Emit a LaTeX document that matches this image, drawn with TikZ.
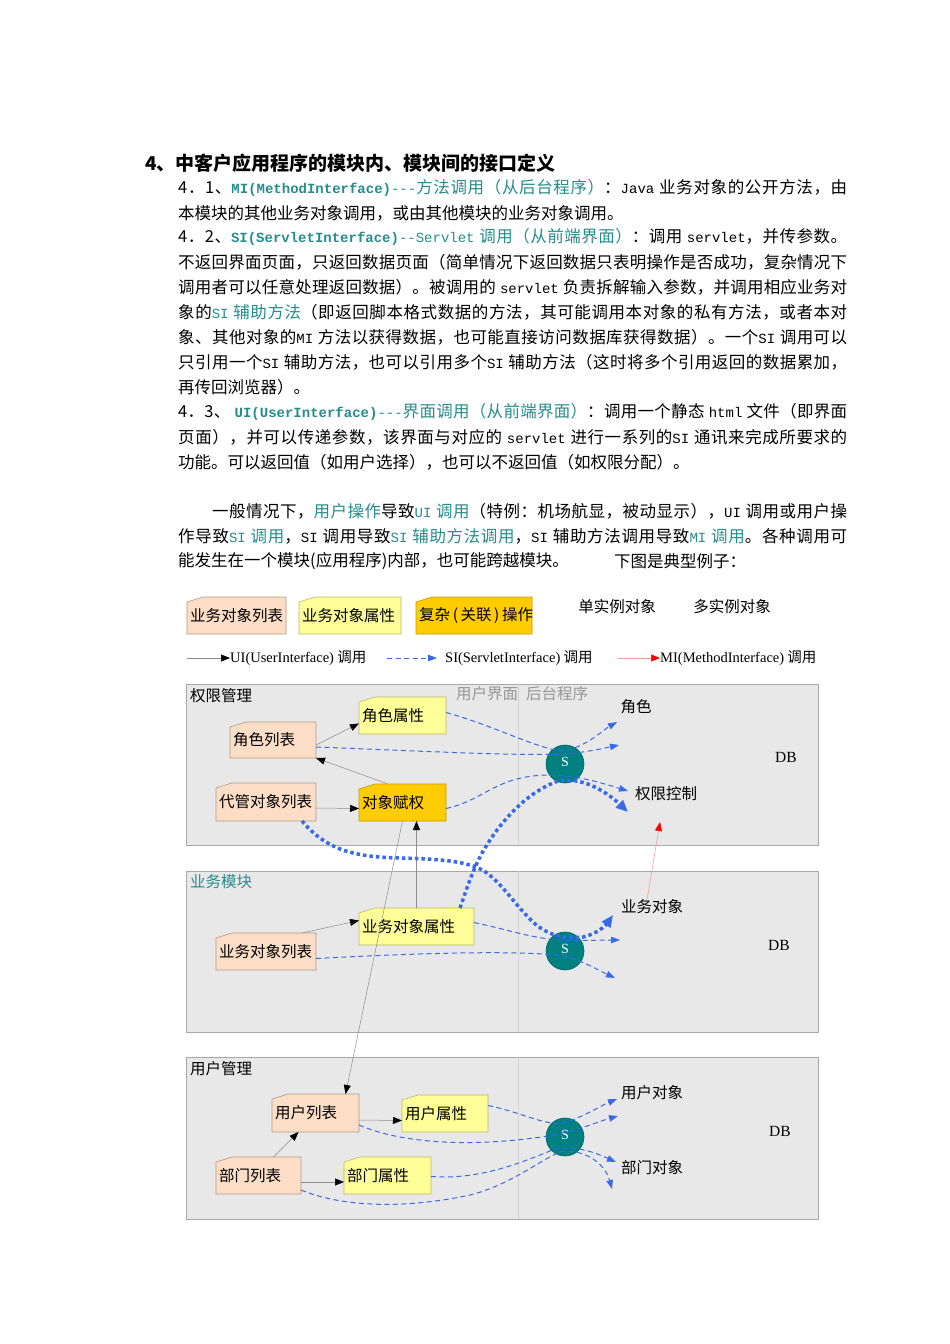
\documentclass[tikz,border=0pt]{standalone}
\usepackage{fontspec}
\setmainfont{Noto Sans CJK SC}
\newfontfamily\serif{Liberation Serif}
\newfontfamily\mono{Liberation Mono}
\usetikzlibrary{arrows.meta}

% stretchable glue between CJK characters, for justified lines
\newcount\cjkc
\cjkc="4E00
\loop\XeTeXcharclass\cjkc=7 \advance\cjkc by 1 \ifnum\cjkc<"A000 \repeat
\cjkc="3000
\loop\XeTeXcharclass\cjkc=7 \advance\cjkc by 1 \ifnum\cjkc<"3040 \repeat
\cjkc="FF00
\loop\XeTeXcharclass\cjkc=7 \advance\cjkc by 1 \ifnum\cjkc<"FFF0 \repeat
\XeTeXinterchartokenstate=1
\XeTeXinterchartoks 7 7 = {\hskip 0pt plus 1pt\relax}
\XeTeXinterchartoks 0 7 = {\hskip 0pt plus 1pt\relax}
\XeTeXinterchartoks 7 0 = {\hskip 0pt plus 1pt\relax}

\definecolor{peach}{RGB}{252,222,198}
\definecolor{peachline}{RGB}{175,155,135}
\definecolor{yellowbox}{RGB}{255,255,153}
\definecolor{yellowline}{RGB}{185,185,110}
\definecolor{orangebox}{RGB}{255,204,0}
\definecolor{orangeline}{RGB}{195,155,0}
\definecolor{panelfill}{RGB}{232,232,232}
\definecolor{panelline}{RGB}{168,168,168}
\definecolor{sepline}{RGB}{212,212,212}
\definecolor{tealS}{RGB}{0,128,128}
\definecolor{tealD}{RGB}{0,100,100}
\definecolor{tealtxt}{RGB}{38,140,140}
\definecolor{siblue}{RGB}{55,105,235}
\definecolor{uigray}{RGB}{140,140,140}
\definecolor{mipink}{RGB}{240,150,150}
\definecolor{graytxt}{RGB}{150,150,150}

\newcommand\bodyfont{\fontsize{16.5}{19}\selectfont}
\newcommand\dgfont{\fontsize{15.5}{18}\selectfont}
\newcommand\lat[1]{{\mono\fontsize{14}{16}\selectfont#1}}
\newcommand\latb[1]{{\mono\bfseries\fontsize{14}{16}\selectfont#1}}
\newcommand\hl[1]{\textcolor{tealtxt}{#1}}
\newcommand\jl[2][669pt]{\hbox to #1{#2}}

% card with a cut top-left corner: style, name, top-left, bottom-right, text
\def\card[#1](#2)(#3,#4)(#5,#6)#7{%
  \draw[#1] (#3,#4+5) -- (#3+16,#4) -- (#5,#4) -- (#5,#6) -- (#3,#6) -- cycle;
  \node[cardbox, minimum width={#5-#3}, minimum height={#6-#4}] (#2) at ({(#3+#5)/2},{(#4+#6)/2}) {};
  \begin{scope}
    \clip (#3,#4) rectangle (#5,#6);
    \node[cardtxt] (#2-t) at ([xshift=3pt]#2.west) {#7};
  \end{scope}}

\begin{document}
\begin{tikzpicture}[x=1pt,y=-1pt,
  panel/.style={draw=panelline, fill=panelfill, line width=0.6pt},
  vsep/.style={draw=sepline, line width=0.6pt},
  lst/.style={draw=peachline, fill=peach, line width=0.6pt},
  attr/.style={draw=yellowline, fill=yellowbox, line width=0.6pt},
  oper/.style={draw=orangeline, fill=orangebox, line width=0.6pt},
  cardbox/.style={inner sep=0pt, outer sep=0pt},
  cardtxt/.style={anchor=west, inner sep=0pt, font=\dgfont},
  lbl/.style={inner sep=0pt, font=\dgfont},
  sv/.style={circle, fill=tealS, draw=tealD, line width=0.6pt, minimum size=38pt, inner sep=0pt, text=white, font=\serif\fontsize{14}{14}\selectfont},
  ui/.style={draw=uigray, line width=0.5pt, -{Triangle[length=9pt,width=7pt,color=black]}},
  si/.style={draw=siblue, line width=1pt, dash pattern=on 5pt off 3.5pt, -{Triangle[length=9pt,width=6.5pt]}},
  sidots/.style={draw=siblue, line width=3.5pt, dash pattern=on 3.5pt off 3pt, -{Triangle[length=12pt,width=10pt]}},
  mi/.style={draw=mipink, line width=0.5pt, -{Triangle[length=9pt,width=7pt,color=red]}},
  ln/.style={anchor=west, inner sep=0pt, font=\bodyfont},
]
\useasboundingbox (0,0) rectangle (950,1344);
\fill[white] (0,0) rectangle (950,1344);

% text of the page
\node[anchor=west, inner sep=0pt, font=\bfseries\fontsize{19}{22}\selectfont] (head) at (145,163) {4、中客户应用程序的模块内、模块间的接口定义};
\node[ln] (l1) at (178,188) {\jl{4．1、\hl{\latb{MI(MethodInterface)}\lat{---}方法调用（从后台程序）}：\lat{Java} 业务对象的公开方法，由}};
\node[ln] (l2) at (178,213) {本模块的其他业务对象调用，或由其他模块的业务对象调用。};
\node[ln] (l3) at (178,237) {\jl{4．2、\hl{\latb{SI(ServletInterface)}\lat{--Servlet} 调用（从前端界面）}：调用 \lat{servlet}，并传参数。}};
\node[ln] (l4) at (178,262) {\jl{不返回界面页面，只返回数据页面（简单情况下返回数据只表明操作是否成功，复杂情况下}};
\node[ln] (l5) at (178,287) {\jl{调用者可以任意处理返回数据）。被调用的 \lat{servlet} 负责拆解输入参数，并调用相应业务对}};
\node[ln] (l6) at (178,312) {\jl{象的\hl{\lat{SI} 辅助方法}（即返回脚本格式数据的方法，其可能调用本对象的私有方法，或者本对}};
\node[ln] (l7) at (178,337) {\jl{象、其他对象的\lat{MI} 方法以获得数据，也可能直接访问数据库获得数据）。一个\lat{SI} 调用可以}};
\node[ln] (l8) at (178,362) {\jl{只引用一个\lat{SI} 辅助方法，也可以引用多个\lat{SI} 辅助方法（这时将多个引用返回的数据累加，}};
\node[ln] (l9) at (178,387) {再传回浏览器）。};
\node[ln] (l10) at (178,412) {\jl{4．3、 \hl{\latb{UI(UserInterface)}\lat{---}界面调用（从前端界面）}：调用一个静态 \lat{html} 文件（即界面}};
\node[ln] (l11) at (178,437) {\jl{页面），并可以传递参数，该界面与对应的 \lat{servlet} 进行一系列的\lat{SI} 通讯来完成所要求的}};
\node[ln] (l12) at (178,462) {功能。可以返回值（如用户选择），也可以不返回值（如权限分配）。};
\node[ln] (l13) at (212,511) {\jl[635pt]{一般情况下，\hl{用户操作}导致\hl{\lat{UI} 调用}（特例：机场航显，被动显示），\lat{UI} 调用或用户操}};
\node[ln] (l14) at (178,536) {\jl{作导致\hl{\lat{SI} 调用}，\lat{SI} 调用导致\hl{\lat{SI} 辅助方法调用}，\lat{SI} 辅助方法调用导致\hl{\lat{MI} 调用}。各种调用可}};
\node[ln] (l15) at (178,561) {能发生在一个模块(应用程序)内部，也可能跨越模块。};
\node[ln] (l15b) at (614,561) {下图是典型例子：};

% legend
\card[lst](lgl)(187,597)(286,634){业务对象列表}
\card[attr](lga)(299,597)(401,634){业务对象属性}
\card[oper](lgo)(416,597)(532,634){复杂\,(\,关联\,)\,操作}
\node[lbl] (single) at (617,607) {单实例对象};
\node[lbl] (multi) at (732,607) {多实例对象};

\coordinate (lgu) at (187,658);
\coordinate (lgs) at (387,658);
\coordinate (lgm) at (618,658);
\node[anchor=west, inner sep=0pt, font=\fontsize{14.5}{17}\selectfont] (uitxt) at (230,658) {{\serif UI(UserInterface)} 调用};
\node[anchor=west, inner sep=0pt, font=\fontsize{14.5}{17}\selectfont] (sitxt) at (445,658) {{\serif SI(ServletInterface)} 调用};
\node[anchor=west, inner sep=0pt, font=\fontsize{14.5}{17}\selectfont] (mitxt) at (660,658) {{\serif MI(MethodInterface)} 调用};
\draw[ui] (lgu) -- (uitxt.west);
\draw[si] (lgs) -- ([xshift=-8pt]sitxt.west);
\draw[mi] (lgm) -- (mitxt.west);

% panels
\draw[panel] (186,684) rectangle (818,845);
\draw[panel] (186,871) rectangle (818,1032);
\draw[panel] (186,1057) rectangle (818,1219);
\draw[vsep] (518,684) -- (518,845);
\draw[vsep] (518,871) -- (518,1032);
\draw[vsep] (518,1057) -- (518,1219);

\node[anchor=west, lbl] (qxgl) at (190,696) {权限管理};
\node[anchor=west, lbl, text=tealtxt] (ywmk) at (190,882) {业务模块};
\node[anchor=west, lbl] (yhgl) at (190,1069) {用户管理};
\node[anchor=west, lbl, text=graytxt] (side) at (456,694) {用户界面\hspace{8pt}后台程序};

% boxes
\card[lst](rl)(230,722)(316,758){角色列表}
\card[attr](rp)(359,697)(446,734){角色属性}
\card[lst](dl)(216,783)(316,821){代管对象列表}
\card[oper](og)(359,784)(446,821){对象赋权}
\card[attr](bp)(359,908)(474,945){业务对象属性}
\card[lst](bl)(216,933)(316,970){业务对象列表}
\card[lst](ul)(272,1094)(359,1132){用户列表}
\card[attr](up)(402,1095)(488,1132){用户属性}
\card[lst](pl)(216,1157)(301,1194){部门列表}
\card[attr](pp)(344,1157)(431,1194){部门属性}

% servlets
\node[sv] (s1) at (565,764) {\raisebox{5pt}{S}};
\node[sv] (s2) at (565,951) {\raisebox{5pt}{S}};
\node[sv] (s3) at (565,1137) {\raisebox{5pt}{S}};

% targets
\node[lbl] (js) at (636,707) {角色};
\node[lbl] (qxkz) at (666,794) {权限控制};
\node[lbl] (ywdx) at (652,907) {业务对象};
\node[lbl] (yhdx) at (652,1093) {用户对象};
\node[lbl] (bmdx) at (652,1168) {部门对象};
\node[lbl, font=\serif\fontsize{15.5}{18}\selectfont] (db1) at (786,757) {DB};
\node[lbl, font=\serif\fontsize{15.5}{18}\selectfont] (db2) at (779,945) {DB};
\node[lbl, font=\serif\fontsize{15.5}{18}\selectfont] (db3) at (780,1131) {DB};

\coordinate (tjs) at (617,722);
\coordinate (tjs2) at (619,745);
\coordinate (tqx) at (628,791);
\coordinate (tqx2) at (628,812);
\coordinate (tyw) at (613,915);
\coordinate (tyw2) at (620,940);
\coordinate (tyw3) at (615,978);
\coordinate (tyh) at (617,1099);
\coordinate (tyh2) at (618,1116);
\coordinate (tbm) at (616,1162);
\coordinate (tbm2) at (612,1189);
\coordinate (miend) at (660,822);

% UI calls
\draw[ui] ([yshift=-5pt]rl.east) -- ([yshift=-8pt]rp.west);
\draw[ui] ([xshift=29pt]og.north west) -- (rl.south east);
\draw[ui] ([yshift=-6pt]dl.east) -- ([yshift=-6pt]og.west);
\draw[ui] (bp.north) -- (bp.north |- og.south);
\draw[ui] (og.south) -- ([xshift=30pt]ul.north);
\draw[ui] ([xshift=-14pt]bl.north east) -- ([yshift=6pt]bp.west);
\draw[ui] ([yshift=-7pt]ul.east) -- ([yshift=-7pt]up.west);
\draw[ui] ([xshift=15pt]pl.north) -- ([xshift=-17pt]ul.south);
\draw[ui] ([yshift=-6.5pt]pl.east) -- ([yshift=-6.5pt]pp.west);

% SI calls
\draw[si] ([yshift=3pt]rp.east) .. controls (495,726) and (535,748) .. (562,751) .. controls (585,748) and (603,730) .. (tjs);
\draw[si] ([yshift=-7pt]rl.east) .. controls (420,751) and (515,756) .. (565,754) .. controls (588,752) and (605,748) .. (tjs2);
\draw[si] ([yshift=-6pt]og.east) .. controls (485,800) and (495,776) .. (548,775) .. controls (578,775) and (605,784) .. (tqx);
\draw[si] ([yshift=4pt]bp.east) .. controls (510,930) and (530,938) .. (560,940) .. controls (580,941) and (600,940) .. (tyw2);
\draw[si] ([yshift=-7pt]bl.east) .. controls (420,953) and (520,950) .. (565,956) .. controls (585,962) and (600,971) .. (tyw3);
\draw[si] ([yshift=8pt]up.east) .. controls (520,1112) and (535,1122) .. (560,1124) .. controls (582,1118) and (600,1106) .. (tyh);
\draw[si] ([yshift=-12pt]ul.east) .. controls (400,1143) and (470,1148) .. (548,1136) .. controls (580,1130) and (600,1121) .. (tyh2);
\draw[si] ([yshift=-1pt]pp.east) .. controls (480,1180) and (520,1163) .. (555,1149) .. controls (580,1145) and (600,1155) .. (tbm);
\draw[si] ([yshift=-14.5pt]pl.east) .. controls (340,1206) and (400,1210) .. (470,1195) .. controls (510,1185) and (540,1160) .. (562,1151) .. controls (590,1150) and (606,1167) .. (tbm2);

% SI calls across modules
\draw[sidots] ([xshift=-14pt]dl.south east) .. controls (325,848) and (350,857) .. (400,858) .. controls (445,859) and (472,862) .. (487,873) .. controls (505,887) and (515,905) .. (533,922) .. controls (548,936) and (565,939) .. (583,937) .. controls (597,934) and (606,925) .. (tyw);
\draw[sidots] ([xshift=-14pt]bp.north east) .. controls (468,885) and (474,866) .. (485,848) .. controls (500,823) and (525,793) .. (558,781) .. controls (585,776) and (610,795) .. (tqx2);

% MI call
\draw[mi] ([xshift=-5pt]ywdx.north) -- (miend);
\end{tikzpicture}
\end{document}
